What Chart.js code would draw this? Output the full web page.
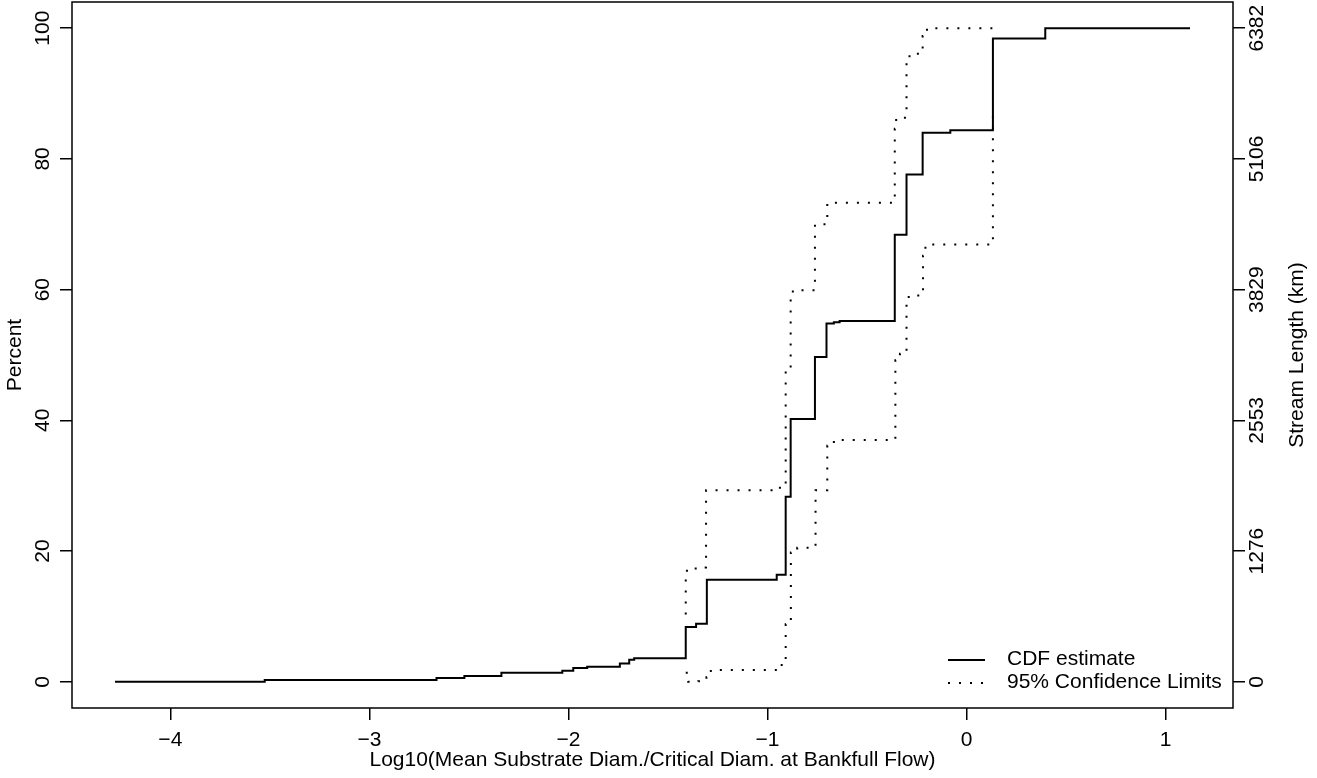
<!DOCTYPE html>
<html>
<head>
<meta charset="utf-8">
<script src="https://cdn.jsdelivr.net/npm/chart.js@4.4.1/dist/chart.umd.min.js"></script>
<style>
  html, body { margin: 0; padding: 0; background: #fff; }
  #wrap { width: 1317px; height: 778px; }
</style>
</head>
<body>
<div id="wrap"><canvas id="cdf" width="1317" height="778"></canvas></div>
<script>
// CDF estimate (step positions, percent after each step)
const cdfX = [-4.278, -3.526, -2.663, -2.523, -2.337, -2.031, -1.976, -1.906, -1.742, -1.695, -1.670,
  -1.411, -1.359, -1.305, -0.954, -0.909, -0.884, -0.762, -0.704, -0.667, -0.638,
  -0.361, -0.302, -0.221, -0.082, 0.132, 0.395, 1.122];
const cdfY = [0, 0.3, 0.6, 0.9, 1.4, 1.7, 2.1, 2.3, 2.8, 3.4, 3.6,
  8.4, 8.9, 15.6, 16.4, 28.3, 40.2, 49.7, 54.8, 55.0, 55.2,
  68.4, 77.6, 84.0, 84.4, 98.4, 100, 100];

// 95% confidence limits
const upperX = [-1.411, -1.411, -1.361, -1.309, -0.938, -0.909, -0.884, -0.873, -0.762, -0.700,
  -0.361, -0.354, -0.302, -0.287, -0.221, -0.199, 0.132];
const upperY = [10.3, 17.0, 17.5, 29.3, 30.0, 47.6, 58.6, 59.9, 70.0, 73.3,
  84.6, 86.3, 94.7, 96.1, 98.8, 100, 100];
const lowerX = [-1.411, -1.399, -1.348, -1.307, -1.285, -0.929, -0.909, -0.883, -0.851, -0.759,
  -0.700, -0.667, -0.358, -0.335, -0.302, -0.291, -0.219, -0.207, 0.132];
const lowerY = [1.4, 0, 0.1, 0.7, 1.8, 2.8, 8.8, 19.8, 20.5, 29.3,
  36.1, 37.0, 49.2, 50.2, 57.7, 59.1, 65.2, 66.9, 88];

const xTicks = [-4, -3, -2, -1, 0, 1];
const pctTicks = [0, 20, 40, 60, 80, 100];
const lengthTicks = ['0', '1276', '2553', '3829', '5106', '6382'];

const FONT = '"Liberation Sans", Arial, Helvetica, sans-serif';
const FSIZE = 21;
Chart.defaults.font.family = FONT;
Chart.defaults.font.size = FSIZE;
Chart.defaults.color = '#000';

const pts = (xs, ys) => xs.map((x, i) => ({ x, y: ys[i] }));
const minus = v => String(v).replace('-', '\u2212');

// R-style 4% axis extension
const xLo = Math.min(...cdfX), xHi = Math.max(...cdfX);
const xPad = (xHi - xLo) * 0.04;
const yPad = (100 - 0) * 0.04;

const tickGrid = { drawOnChartArea: false, drawTicks: true, tickLength: 12, color: '#000', lineWidth: 1.5 };
const noPad = s => { s.paddingTop = 0; s.paddingBottom = 0; s.paddingLeft = 0; s.paddingRight = 0; };

const boxPlugin = {
  id: 'rbox',
  afterDraw(chart) {
    const { ctx, chartArea: a } = chart;
    ctx.save();
    ctx.strokeStyle = '#000';
    ctx.lineWidth = 1.5;
    ctx.strokeRect(a.left, a.top, a.right - a.left, a.bottom - a.top);

    // legend, bottom right inside the box
    const rows = [chart.data.datasets[0], chart.data.datasets[1]];
    rows.forEach((ds, i) => {
      const y = a.bottom - 48 + i * 23;
      ctx.beginPath();
      ctx.setLineDash(ds.borderDash || []);
      ctx.lineWidth = ds.borderWidth;
      ctx.moveTo(a.right - 285, y);
      ctx.lineTo(a.right - 248, y);
      ctx.stroke();
      ctx.setLineDash([]);
      ctx.fillStyle = '#000';
      ctx.font = FSIZE + 'px ' + FONT;
      ctx.textAlign = 'left';
      ctx.textBaseline = 'middle';
      ctx.fillText(ds.label, a.right - 226, y - 1);
    });

    // right axis title, reading bottom to top like the left one
    ctx.translate(1297, (a.top + a.bottom) / 2);
    ctx.rotate(-Math.PI / 2);
    ctx.textAlign = 'center';
    ctx.textBaseline = 'middle';
    ctx.fillText('Stream Length (km)', 0, 0);
    ctx.restore();
  }
};

new Chart(document.getElementById('cdf'), {
  type: 'line',
  data: {
    datasets: [
      { label: 'CDF estimate', data: pts(cdfX, cdfY), borderColor: '#000', borderWidth: 2,
        pointRadius: 0, stepped: true, fill: false },
      { label: '95% Confidence Limits', data: pts(upperX, upperY), borderColor: '#000', borderWidth: 2,
        borderDash: [2, 9], pointRadius: 0, stepped: true, fill: false },
      { label: '95% Confidence Limits (lower)', data: pts(lowerX, lowerY), borderColor: '#000', borderWidth: 2,
        borderDash: [2, 9], pointRadius: 0, stepped: true, fill: false }
    ]
  },
  options: {
    responsive: false,
    animation: false,
    devicePixelRatio: 1,
    layout: { padding: { top: 2, left: 0, right: 0, bottom: 0 } },
    plugins: { legend: { display: false }, tooltip: { enabled: false } },
    scales: {
      x: {
        type: 'linear', position: 'bottom',
        min: xLo - xPad, max: xHi + xPad,
        afterBuildTicks: s => { s.ticks = xTicks.map(v => ({ value: v })); },
        afterFit: s => { s.height = 70; noPad(s); },
        grid: tickGrid, border: { display: false },
        ticks: { padding: 8, maxRotation: 0, callback: v => minus(v) },
        title: { display: true, text: 'Log10(Mean Substrate Diam./Critical Diam. at Bankfull Flow)',
          padding: { top: 0, bottom: 5 } }
      },
      y: {
        type: 'linear', position: 'left',
        min: 0 - yPad, max: 100 + yPad,
        afterBuildTicks: s => { s.ticks = pctTicks.map(v => ({ value: v })); },
        afterFit: s => { s.width = 72; noPad(s); },
        grid: tickGrid, border: { display: false },
        ticks: { minRotation: 90, maxRotation: 90, crossAlign: 'center', padding: -1 },
        title: { display: true, text: 'Percent', padding: { top: 3, bottom: 0 } }
      },
      y2: {
        type: 'linear', position: 'right',
        min: 0 - yPad, max: 100 + yPad,
        afterBuildTicks: s => { s.ticks = pctTicks.map(v => ({ value: v })); },
        afterFit: s => { s.width = 84; noPad(s); },
        grid: tickGrid, border: { display: false },
        ticks: { minRotation: 90, maxRotation: 90, crossAlign: 'center', padding: -11,
          callback: v => lengthTicks[pctTicks.indexOf(v)] }
      }
    }
  },
  plugins: [boxPlugin]
});
</script>
</body>
</html>
